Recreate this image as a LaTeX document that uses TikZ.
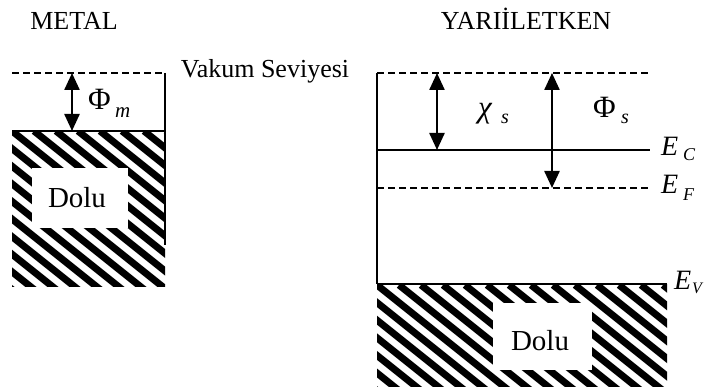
\documentclass[tikz,border=0pt]{standalone}
\usepackage{fontspec}
\setmainfont{Liberation Serif}
\usetikzlibrary{arrows.meta}
\begin{document}
\begin{tikzpicture}[x=1pt,y={(0pt,-1pt)},
  solidlevel/.style={line width=1.4pt},
  dashlevel/.style={line width=1.4pt, dash pattern=on 7pt off 4pt},
  dblarrow/.style={line width=2.4pt, {Triangle[length=17pt,width=15pt]}-{Triangle[length=17pt,width=15pt]}},
  lbl/.style={inner sep=0pt, anchor=base west},
  title/.style={inner sep=0pt, anchor=base, font=\fontsize{26}{28}\selectfont},
  dolutext/.style={inner sep=0pt, anchor=base, font=\fontsize{29}{30}\selectfont},
  hatchline/.style={line width=7pt},
  whitebox/.style={fill=white, inner sep=0pt}
]
\useasboundingbox (0,0) rectangle (705,387);

% titles
\node[title] (metal) at (74,30) {METAL};
\node[title] (semi) at (526,30) {YARIİLETKEN};
\node[title] (vakum) at (265,78) {Vakum Seviyesi};

% ---------- metal ----------
\begin{scope}
\clip (12,131) rectangle (165,287);
\foreach \i in {-10,...,8} \draw[hatchline] (12+22*\i,131) -- ++(220,176);
\end{scope}
\node[whitebox, minimum width=96pt, minimum height=60pt] (mbox) at (80,198) {};
\node[dolutext] (mdolu) at (77,208) {Dolu};

\coordinate (mvacL) at (12,73);
\coordinate (mvacR) at (165,73);
\coordinate (mfL) at (12,131);
\coordinate (mfR) at (165,131);
\coordinate (mright) at (165,245);
\draw[dashlevel] (mvacL) -- (mvacR);
\draw[solidlevel] (mfL) -- (mfR);
\draw[solidlevel] (mvacR) -- (mright);

\coordinate (phimT) at (72,73);
\coordinate (phimB) at (72,131);
\draw[dblarrow] (phimT) -- (phimB);
\node[lbl, font=\fontsize{31}{31}\selectfont] (phim) at (88,110) {Φ};
\node[lbl, font=\fontsize{21}{21}\selectfont\itshape] (phimsub) at (115,118) {m};

% ---------- semiconductor ----------
\begin{scope}
\clip (377,285) rectangle (667,387);
\foreach \i in {-10,...,14} \draw[hatchline] (377+22*\i,285) -- ++(150,120);
\end{scope}
\node[whitebox, minimum width=99pt, minimum height=67pt] (sbox) at (542.5,336.5) {};
\node[dolutext] (sdolu) at (540,351) {Dolu};

\coordinate (svacL) at (377,73);
\coordinate (svacR) at (650,73);
\coordinate (ecL) at (377,150);
\coordinate (ecR) at (650,150);
\coordinate (efL) at (377,188);
\coordinate (efR) at (650,188);
\coordinate (evL) at (377,284);
\coordinate (evR) at (667,284);
\draw[dashlevel] (svacL) -- (svacR);
\draw[solidlevel] (ecL) -- (ecR);
\draw[dashlevel] (efL) -- (efR);
\draw[solidlevel] (evL) -- (evR);
\draw[solidlevel] (svacL) -- (evL);

\coordinate (chiT) at (437,73);
\coordinate (chiB) at (437,150);
\draw[dblarrow] (chiT) -- (chiB);
\coordinate (phisT) at (552,73);
\coordinate (phisB) at (552,188);
\draw[dblarrow] (phisT) -- (phisB);

\node[lbl, font=\fontsize{31}{31}\selectfont\itshape] (chi) at (478,118) {χ};
\node[lbl, font=\fontsize{20}{20}\selectfont\itshape] (chisub) at (501,124) {s};
\node[lbl, font=\fontsize{31}{31}\selectfont] (phis) at (593,118) {Φ};
\node[lbl, font=\fontsize{20}{20}\selectfont\itshape] (phissub) at (621,124) {s};

\node[lbl, font=\fontsize{28}{28}\selectfont\itshape] (ec) at (661,156) {E};
\node[lbl, font=\fontsize{18}{18}\selectfont\itshape] (ecsub) at (683,161) {C};
\node[lbl, font=\fontsize{28}{28}\selectfont\itshape] (ef) at (661,194) {E};
\node[lbl, font=\fontsize{18}{18}\selectfont\itshape] (efsub) at (683,201) {F};
\node[lbl, font=\fontsize{28}{28}\selectfont\itshape] (ev) at (674,290) {E};
\node[lbl, font=\fontsize{16}{16}\selectfont\itshape] (evsub) at (692,294) {V};
\end{tikzpicture}
\end{document}
